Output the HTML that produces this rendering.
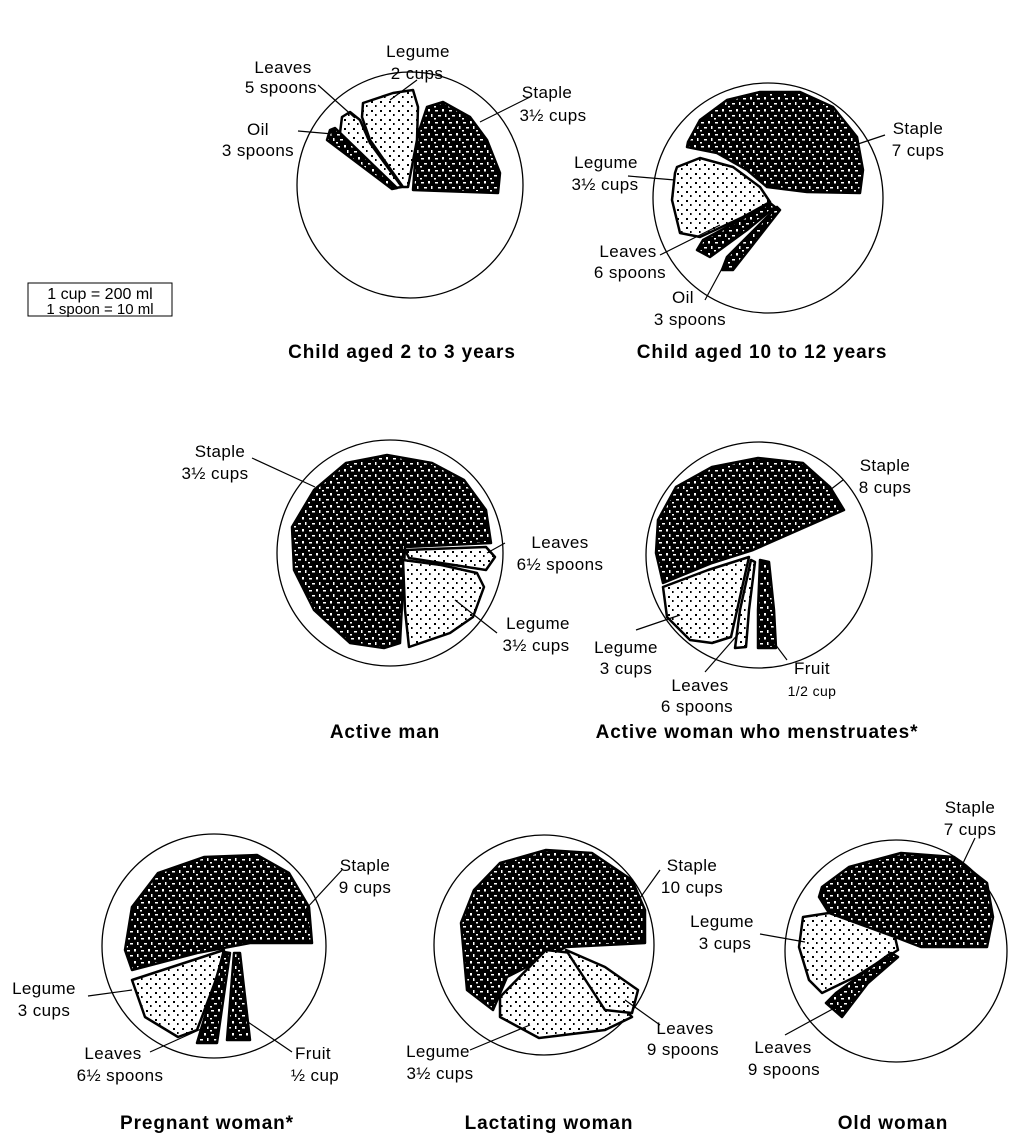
<!DOCTYPE html>
<html><head><meta charset="utf-8"><style>
html,body{margin:0;padding:0;background:#fff}
svg{display:block}
text{font-family:"Liberation Sans",sans-serif;font-size:17px;letter-spacing:0.4px;fill:#000;text-anchor:middle}
.t{font-weight:bold;font-size:19px;letter-spacing:0.9px}
</style></head><body>
<svg width="1020" height="1146" viewBox="0 0 1020 1146" xmlns="http://www.w3.org/2000/svg">
<defs>
<pattern id="dk" width="14" height="12" patternUnits="userSpaceOnUse">
<rect width="14" height="12" fill="#000"/>
<path d="M1 2h3v1.5H1zM8 1h2v2.5H8zM4 7h3v1.5H4zM11 6h1.5v3H11zM0 10h2v1.5H0z" fill="#fff"/>
</pattern>
<pattern id="dt" width="9" height="9" patternUnits="userSpaceOnUse">
<rect width="9" height="9" fill="#fff"/>
<rect x="2" y="2" width="2" height="2" fill="#000"/><rect x="6" y="6" width="1.6" height="2" fill="#000"/>
</pattern>
</defs>
<g fill="none" stroke="#000" stroke-width="1.3">
<circle cx="410" cy="185" r="113"/>
<circle cx="768" cy="198" r="115"/>
<circle cx="390" cy="553" r="113"/>
<circle cx="759" cy="555" r="113"/>
<circle cx="214" cy="946" r="112"/>
<circle cx="544" cy="945" r="110"/>
<circle cx="896" cy="951" r="111"/>
</g>
<g stroke="#000" stroke-width="2.5" stroke-linejoin="round">
<polygon fill="url(#dk)" points="427,107 443,102 470,117 487,140 500,173 498,193 413,190 417,137"/>
<polygon fill="url(#dt)" points="363,103 393,93 413,90 418,107 417,140 408,187 403,187 370,140 362,117"/>
<polygon fill="url(#dt)" points="342,117 350,112 360,120 370,143 402,187 395,188 340,133"/>
<polygon fill="url(#dk)" points="330,130 335,128 397,188 392,189 327,140"/>
<polygon fill="url(#dk)" points="688,142 700,120 727,100 760,92 800,92 833,107 857,137 863,170 860,193 807,192 767,187 747,170 717,153 687,147"/>
<polygon fill="url(#dt)" points="677,167 700,158 733,167 760,187 770,202 743,217 700,237 680,233 672,200 675,173"/>
<polygon fill="url(#dk)" points="770,203 775,207 747,230 710,257 697,250 703,240 740,220"/>
<polygon fill="url(#dk)" points="777,207 780,210 733,270 722,270 727,257"/>
<polygon fill="url(#dk)" points="292,527 314,490 346,463 387,455 432,463 464,480 486,510 491,543 405,547 400,643 384,648 350,643 314,610 294,570"/>
<polygon fill="url(#dt)" points="405,550 486,547 495,557 486,570 409,558"/>
<polygon fill="url(#dt)" points="403,560 441,565 477,573 484,587 473,617 450,633 409,647 405,610"/>
<polygon fill="url(#dk)" points="658,520 676,487 712,467 758,458 803,463 830,487 844,510 753,550 712,563 663,583 656,553"/>
<polygon fill="url(#dt)" points="663,587 708,570 749,557 740,597 731,637 712,643 690,640 667,617"/>
<polygon fill="url(#dt)" points="751,560 755,562 749,610 746,647 735,648 740,610"/>
<polygon fill="url(#dk)" points="760,560 769,562 774,610 776,648 758,648 758,610"/>
<polygon fill="url(#dk)" points="125,950 132,907 158,873 204,857 257,855 289,873 309,907 312,943 250,943 197,953 132,970"/>
<polygon fill="url(#dt)" points="132,980 224,950 217,977 197,1030 178,1037 145,1017"/>
<polygon fill="url(#dk)" points="224,952 230,953 217,1043 197,1043"/>
<polygon fill="url(#dk)" points="234,953 240,953 250,1040 227,1040"/>
<polygon fill="url(#dk)" points="461,923 474,890 500,863 546,850 592,853 632,880 645,910 645,943 566,947 507,977 493,1010 467,990"/>
<polygon fill="url(#dt)" points="546,950 572,953 632,1017 605,1030 539,1038 500,1017 500,997"/>
<polygon fill="url(#dt)" points="566,950 605,967 638,990 632,1013 605,1010"/>
<polygon fill="url(#dk)" points="822,887 849,867 901,853 954,857 987,883 993,917 987,947 921,947 895,937 855,923 829,913 819,897"/>
<polygon fill="url(#dt)" points="803,917 829,913 895,937 898,950 855,977 822,993 809,980 799,947"/>
<polygon fill="url(#dk)" points="891,953 898,957 868,983 842,1017 826,1003 836,993"/>
</g>
<g stroke="#000" stroke-width="1.2" fill="none">
<line x1="417" y1="80" x2="390" y2="100"/>
<line x1="318" y1="85" x2="355" y2="118"/>
<line x1="298" y1="131" x2="333" y2="134"/>
<line x1="530" y1="97" x2="480" y2="122"/>
<line x1="885" y1="135" x2="855" y2="145"/>
<line x1="628" y1="176" x2="675" y2="180"/>
<line x1="660" y1="255" x2="720" y2="225"/>
<line x1="705" y1="300" x2="725" y2="263"/>
<line x1="252" y1="458" x2="315" y2="487"/>
<line x1="505" y1="543" x2="487" y2="553"/>
<line x1="497" y1="633" x2="455" y2="600"/>
<line x1="843" y1="480" x2="830" y2="490"/>
<line x1="636" y1="630" x2="680" y2="615"/>
<line x1="705" y1="672" x2="740" y2="632"/>
<line x1="787" y1="660" x2="772" y2="640"/>
<line x1="342" y1="870" x2="305" y2="910"/>
<line x1="88" y1="996" x2="132" y2="990"/>
<line x1="150" y1="1052" x2="210" y2="1025"/>
<line x1="292" y1="1052" x2="245" y2="1020"/>
<line x1="660" y1="870" x2="635" y2="905"/>
<line x1="660" y1="1025" x2="625" y2="1000"/>
<line x1="470" y1="1050" x2="530" y2="1025"/>
<line x1="975" y1="838" x2="955" y2="880"/>
<line x1="760" y1="934" x2="805" y2="942"/>
<line x1="785" y1="1035" x2="840" y2="1005"/>
</g>
<rect x="28" y="283" width="144" height="33" fill="none" stroke="#000" stroke-width="1"/>
<text x="100" y="299" style="font-size:16px;letter-spacing:0">1 cup = 200 ml</text>
<text x="100" y="314" style="font-size:15px;letter-spacing:0">1 spoon = 10 ml</text>
<text x="418" y="57">Legume</text><text x="417" y="79">2 cups</text>
<text x="283" y="73">Leaves</text><text x="281" y="93">5 spoons</text>
<text x="258" y="135">Oil</text><text x="258" y="156">3 spoons</text>
<text x="547" y="98">Staple</text><text x="553" y="121">3½ cups</text>
<text x="918" y="134">Staple</text><text x="918" y="156">7 cups</text>
<text x="606" y="168">Legume</text><text x="605" y="190">3½ cups</text>
<text x="628" y="257">Leaves</text><text x="630" y="278">6 spoons</text>
<text x="683" y="303">Oil</text><text x="690" y="325">3 spoons</text>
<text x="220" y="457">Staple</text><text x="215" y="479">3½ cups</text>
<text x="560" y="548">Leaves</text><text x="560" y="570">6½ spoons</text>
<text x="538" y="629">Legume</text><text x="536" y="651">3½ cups</text>
<text x="885" y="471">Staple</text><text x="885" y="493">8 cups</text>
<text x="626" y="653">Legume</text><text x="626" y="674">3 cups</text>
<text x="700" y="691">Leaves</text><text x="697" y="712">6 spoons</text>
<text x="812" y="674">Fruit</text><text x="812" y="696" style="font-size:14px">1/2 cup</text>
<text x="365" y="871">Staple</text><text x="365" y="893">9 cups</text>
<text x="44" y="994">Legume</text><text x="44" y="1016">3 cups</text>
<text x="113" y="1059">Leaves</text><text x="120" y="1081">6½ spoons</text>
<text x="313" y="1059">Fruit</text><text x="315" y="1081">½ cup</text>
<text x="692" y="871">Staple</text><text x="692" y="893">10 cups</text>
<text x="685" y="1034">Leaves</text><text x="683" y="1055">9 spoons</text>
<text x="438" y="1057">Legume</text><text x="440" y="1079">3½ cups</text>
<text x="970" y="813">Staple</text><text x="970" y="835">7 cups</text>
<text x="722" y="927">Legume</text><text x="725" y="949">3 cups</text>
<text x="783" y="1053">Leaves</text><text x="784" y="1075">9 spoons</text>
<text class="t" x="402" y="358">Child aged 2 to 3 years</text>
<text class="t" x="762" y="358">Child aged 10 to 12 years</text>
<text class="t" x="385" y="738">Active man</text>
<text class="t" x="757" y="738">Active woman who menstruates*</text>
<text class="t" x="207" y="1129">Pregnant woman*</text>
<text class="t" x="549" y="1129">Lactating woman</text>
<text class="t" x="893" y="1129">Old woman</text>
</svg>
</body></html>
